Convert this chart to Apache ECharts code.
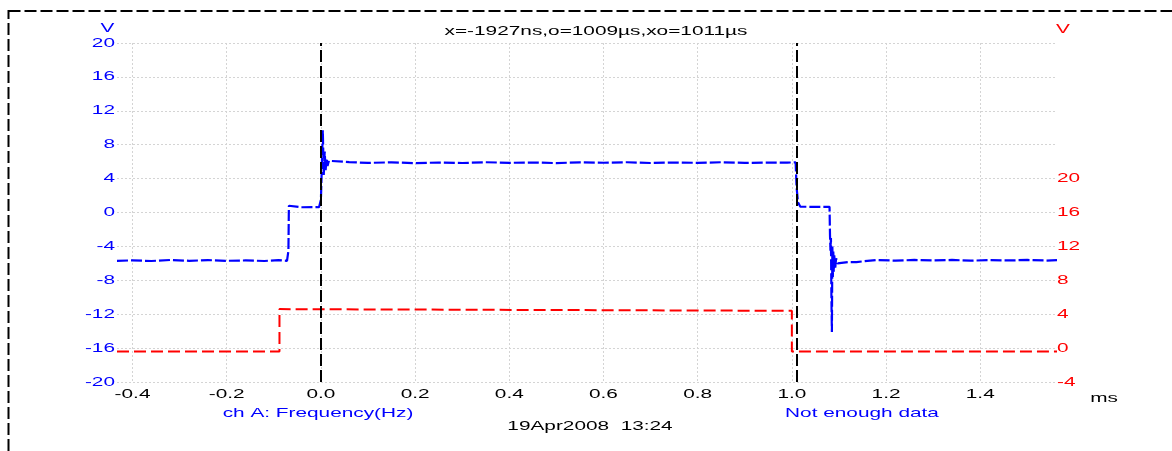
<!DOCTYPE html>
<html><head><meta charset="utf-8">
<script src="https://cdn.jsdelivr.net/npm/echarts@6/dist/echarts.min.js"></script>
<style>html,body{margin:0;padding:0;background:#fff;overflow:hidden}#c{width:1172px;height:451px}</style>
</head><body><div id="c"></div>
<script>
// ---- data ----
const xTicks = [-0.4, -0.2, 0, 0.2, 0.4, 0.6, 0.8, 1.0, 1.2, 1.4];
const blueTime = [-0.433, -0.40, -0.36, -0.32, -0.28, -0.24, -0.20, -0.16, -0.12, -0.09, -0.072, -0.069, -0.068, -0.066, -0.040, -0.010, -0.004,
  0.000, 0.002, 0.004, 0.006, 0.008, 0.010, 0.012, 0.014, 0.017, 0.020, 0.06, 0.10, 0.15, 0.20, 0.25, 0.30, 0.35, 0.40, 0.45, 0.50,
  0.55, 0.60, 0.65, 0.70, 0.75, 0.80, 0.85, 0.90, 0.95, 0.99, 1.008, 1.010, 1.013, 1.018, 1.022, 1.05, 1.080, 1.081, 1.082, 1.083,
  1.084, 1.085, 1.086, 1.087, 1.088, 1.089, 1.090, 1.092, 1.094, 1.097, 1.100, 1.120, 1.137, 1.140, 1.18, 1.22, 1.26, 1.30, 1.34,
  1.38, 1.42, 1.46, 1.50, 1.54, 1.563];
const blueVolt = [-5.7, -5.65, -5.72, -5.6, -5.7, -5.62, -5.7, -5.66, -5.72, -5.62, -5.7, -4.5, 0.8, 0.66, 0.62, 0.64, 0.62,
  1.5, 5.5, 9.7, 4.4, 7.2, 5.0, 6.4, 5.5, 6.1, 5.92, 5.95, 5.85, 5.92, 5.82, 5.9, 5.84, 5.93, 5.86, 5.9, 5.83,
  5.92, 5.87, 5.93, 5.84, 5.9, 5.86, 5.93, 5.85, 5.9, 5.88, 5.92, 3.0, 1.2, 0.68, 0.72, 0.67, 0.67, -2.7, -4.5, -3.0,
  -10.0, -14.1, -4.0, -7.6, -4.6, -7.0, -5.0, -6.6, -5.4, -6.0, -5.85, -5.85, -5.85, -5.65, -5.6, -5.68, -5.6, -5.66, -5.6,
  -5.68, -5.62, -5.66, -5.6, -5.67, -5.62];
const redTime = [-0.433, -0.088, -0.088, -0.086, 1.000, 1.000, 1.563];
const redVolt = [-0.4, -0.4, 4.6, 4.4, 4.4, -0.4, -0.4];
const cursorTimes = [-0.001927, 1.009];
const leftTicks = [-20, 20, 4];
const rightTicks = [-4, 36, 4];
const rightLabelMax = 20;
const titleText = 'x=-1927ns,o=1009µs,xo=1011µs';
const leftUnit = 'V', rightUnit = 'V', xUnit = 'ms';
const ch1Label = 'ch A: Frequency(Hz)';
const ch2Label = 'Not enough data';
const dateLabel = '19Apr2008  13:24';

const FONT = 'Liberation Sans, Arial, sans-serif';
const BLUE = '#0000ff', RED = '#ff0000';
const STRETCH = 1.6;
const zip = (a, b) => a.map((v, i) => [v, b[i]]);

const chart = echarts.init(document.getElementById('c'), null, {renderer: 'canvas'});
function txt(text, x, y, color) {
  return {type: 'text', x, y, silent: true,
    style: {text, fill: color, font: '13px ' + FONT, align: 'center', verticalAlign: 'middle'}};
}
const option = {
  animation: false,
  backgroundColor: '#ffffff',
  grid: {left: 117, right: 115, top: 43, bottom: 69, containLabel: false},
  xAxis: {
    type: 'value', min: -0.433, max: 1.563,
    axisLine: {show: false},
    axisTick: {show: false, customValues: xTicks},
    axisLabel: {customValues: xTicks, color: '#000', fontFamily: FONT, fontSize: 13, margin: 6,
      formatter: v => v.toFixed(1)},
    splitLine: {show: true, lineStyle: {color: '#d4d4d4', type: [2, 2], width: 1}}
  },
  yAxis: [{
    type: 'value', min: leftTicks[0], max: leftTicks[1], interval: leftTicks[2], position: 'left',
    axisLine: {show: false}, axisTick: {show: false},
    axisLabel: {color: BLUE, fontFamily: FONT, fontSize: 13, margin: 2},
    splitLine: {show: true, lineStyle: {color: '#d4d4d4', type: [2, 2], width: 1}}
  }, {
    type: 'value', min: rightTicks[0], max: rightTicks[1], interval: rightTicks[2], position: 'right',
    axisLine: {show: false}, axisTick: {show: false},
    axisLabel: {color: RED, fontFamily: FONT, fontSize: 13, margin: 0,
      formatter: v => (v <= rightLabelMax ? String(v) : '')},
    splitLine: {show: false}
  }],
  series: [{
    type: 'line', name: 'red', yAxisIndex: 1, data: zip(redTime, redVolt), symbol: 'none',
    lineStyle: {color: RED, width: 2, type: [12, 5]}, silent: true, z: 2
  }, {
    type: 'line', name: 'blue', yAxisIndex: 0, data: zip(blueTime, blueVolt), symbol: 'none',
    lineStyle: {color: BLUE, width: 2.2, type: [11, 3]}, silent: true, z: 3,
    markLine: {silent: true, symbol: 'none', label: {show: false},
      lineStyle: {color: '#000', width: 2, type: [12, 4]},
      data: cursorTimes.map(t => ({xAxis: t})), z: 5}
  }],
  graphic: [
    {type: 'rect', silent: true, shape: {x: 8.5, y: 11, width: 1300, height: 600},
      style: {fill: 'none', stroke: '#000', lineWidth: 2, lineDash: [12, 4]}},
    txt(leftUnit, 107.5, 28, BLUE),
    txt(rightUnit, 1063, 29, RED),
    txt(titleText, 596, 31.5, '#000'),
    txt(xUnit, 1104, 398, '#000'),
    txt(ch1Label, 318, 413, BLUE),
    txt(ch2Label, 862, 413, BLUE),
    txt(dateLabel, 590, 426, '#000')
  ]
};
chart.setOption(option);
// the reference draws its text horizontally stretched; reproduce that on every text element
function stretchTexts() {
  const zr = chart.getZr();
  let changed = false;
  const visit = el => {
    if (el.type === 'text' && el.scaleX !== STRETCH) { el.scaleX = STRETCH; el.markRedraw(); changed = true; }
  };
  zr.storage.getRoots().forEach(root => {
    visit(root);
    if (root.traverse) root.traverse(visit);
  });
  if (changed) zr.refreshImmediately();
}
stretchTexts();
chart.on('finished', stretchTexts);
setTimeout(stretchTexts, 50);
</script></body></html>
